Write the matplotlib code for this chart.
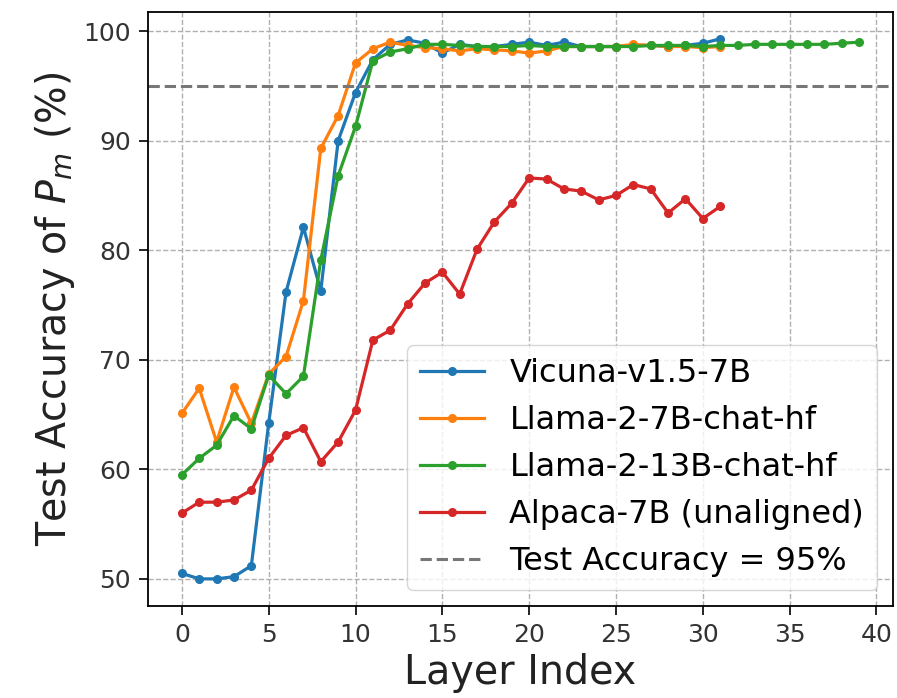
import matplotlib
matplotlib.use("Agg")
import matplotlib.pyplot as plt

# test accuracy per layer (%)
vicuna_7b = [50.5, 50.0, 50.0, 50.2, 51.2, 64.2, 76.2, 82.1, 76.3, 90.0,
             94.4, 97.4, 98.8, 99.2, 98.9, 98.0, 98.8, 98.6, 98.6, 98.8,
             99.0, 98.7, 99.0, 98.6, 98.6, 98.6, 98.7, 98.7, 98.6, 98.7,
             98.9, 99.3]
llama2_7b = [65.1, 67.4, 62.5, 67.5, 64.2, 68.7, 70.3, 75.4, 89.3, 92.3,
             97.1, 98.4, 99.0, 98.7, 98.5, 98.4, 98.2, 98.4, 98.3, 98.2,
             98.0, 98.2, 98.6, 98.6, 98.6, 98.6, 98.8, 98.7, 98.6, 98.6,
             98.5, 98.6]
llama2_13b = [59.5, 61.0, 62.2, 64.9, 63.7, 68.6, 66.9, 68.5, 79.1, 86.8,
              91.3, 97.3, 98.1, 98.4, 98.8, 98.8, 98.7, 98.6, 98.6, 98.6,
              98.7, 98.6, 98.6, 98.6, 98.6, 98.6, 98.6, 98.7, 98.7, 98.7,
              98.6, 98.7, 98.7, 98.8, 98.8, 98.8, 98.8, 98.8, 98.9, 99.0]
alpaca_7b = [56.0, 57.0, 57.0, 57.2, 58.1, 61.0, 63.1, 63.8, 60.7, 62.5,
             65.4, 71.8, 72.7, 75.1, 77.0, 78.0, 76.0, 80.1, 82.6, 84.3,
             86.6, 86.5, 85.6, 85.4, 84.6, 85.0, 86.0, 85.6, 83.4, 84.7,
             82.9, 84.0]
series = [
    ("Vicuna-v1.5-7B", vicuna_7b, "#1f77b4"),
    ("Llama-2-7B-chat-hf", llama2_7b, "#ff7f0e"),
    ("Llama-2-13B-chat-hf", llama2_13b, "#2ca02c"),
    ("Alpaca-7B (unaligned)", alpaca_7b, "#d62728"),
]
threshold = 95

fig = plt.figure(figsize=(8.97, 6.98), dpi=100)
ax = fig.add_axes([0.165, 0.132, 0.8305, 0.851])

for name, vals, color in series:
    ax.plot(range(len(vals)), vals, marker="o", markersize=5.5, linewidth=2.3,
            color=color, label=name)

ax.axhline(threshold, color="#777777", linestyle="--", linewidth=2.2,
           label="Test Accuracy = 95%")

ax.grid(True, linestyle="--", color="#b0b0b0", linewidth=1.0)
ax.set_xticks(range(0, 41, 5))
ax.set_yticks(range(50, 101, 10))
ax.tick_params(labelsize=18, length=6.5, width=1.2, pad=6, labelcolor="#333333")
for s in ax.spines.values():
    s.set_linewidth(1.3)

ax.set_xlabel("Layer Index", fontsize=28.5, color="#222222")
ax.set_ylabel("Test Accuracy of $P_m$ (%)", fontsize=28.5, color="#222222")

ax.legend(loc="lower right", fontsize=23, handlelength=2.0,
          borderaxespad=0.5, framealpha=0.8)

fig.savefig("out.png", dpi=100)
